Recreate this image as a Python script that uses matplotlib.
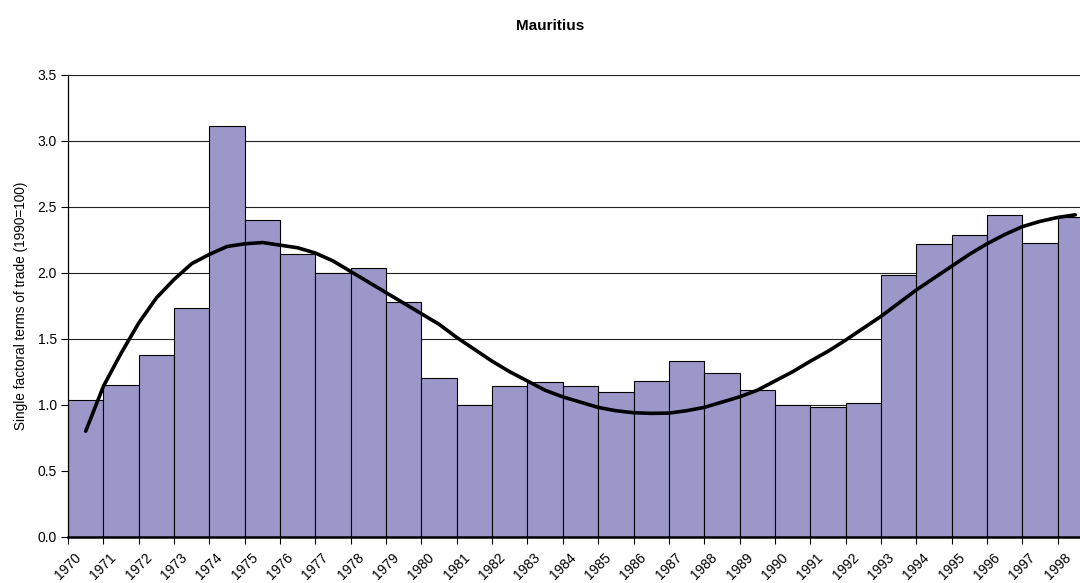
import matplotlib
matplotlib.use("Agg")
import matplotlib.pyplot as plt
import numpy as np

plt.rcParams['font.family'] = ['Liberation Sans', 'DejaVu Sans']

years = list(range(1970, 1999))
tot_index = [1.04, 1.15, 1.38, 1.73, 3.11, 2.40, 2.14, 2.00, 2.04, 1.78,
             1.20, 1.00, 1.14, 1.17, 1.14, 1.10, 1.18, 1.33, 1.24, 1.11,
             1.00, 0.98, 1.01, 1.98, 2.22, 2.29, 2.44, 2.23, 2.42]

# Trend line, sampled every half year from mid-1970 to mid-1998
trend_x = [1970.5 + 0.5 * k for k in range(57)]
trend = [0.80, 1.14, 1.39, 1.62, 1.81, 1.95, 2.07, 2.14, 2.20, 2.22,
         2.23, 2.21, 2.19, 2.15, 2.09, 2.01, 1.93, 1.85, 1.77, 1.69,
         1.61, 1.51, 1.42, 1.33, 1.25, 1.18, 1.11, 1.06, 1.02, 0.98,
         0.955, 0.94, 0.935, 0.937, 0.955, 0.98, 1.02, 1.06, 1.11, 1.18,
         1.25, 1.33, 1.405, 1.49, 1.58, 1.67, 1.77, 1.87, 1.96, 2.05,
         2.14, 2.22, 2.29, 2.35, 2.39, 2.42, 2.44]
y_ticks = [0.0, 0.5, 1.0, 1.5, 2.0, 2.5, 3.0, 3.5]

fig = plt.figure(figsize=(10.8, 5.83), dpi=100)
ax = fig.add_axes([0.063, 0.0794, 0.949, 0.792])

ax.bar(years, tot_index, width=1.0, align='edge', color='#9c97c9',
       edgecolor='black', linewidth=0.8, zorder=2)
ax.plot(trend_x, trend, color='black', linewidth=2.6, zorder=3,
        solid_capstyle='round', solid_joinstyle='round')

ax.set_xlim(years[0], years[-1] + 1)
ax.set_ylim(0, 3.5)
ax.set_yticks(y_ticks)
ax.set_yticklabels([f"{v:.1f}" for v in y_ticks], fontsize=10)
ax.set_xticks(years)
ax.set_xticklabels([str(y) for y in years], rotation=45, ha='center',
                   fontsize=10)
ax.tick_params(axis='both', direction='out', length=5, width=0.8,
               color='black')
ax.tick_params(axis='x', pad=5)
ax.tick_params(axis='y', pad=3)

ax.yaxis.grid(True, color='#222222', linewidth=0.8, zorder=0)
ax.set_axisbelow(True)

for side in ('top', 'right'):
    ax.spines[side].set_visible(False)
ax.spines['left'].set_linewidth(0.9)
ax.spines['bottom'].set_linewidth(1.8)

ax.set_ylabel('Single factoral terms of trade (1990=100)', fontsize=9.8,
              labelpad=7)
fig.text(0.509, 0.955, 'Mauritius', ha='center', va='center',
         fontsize=11, fontweight='bold')

fig.savefig('out.png', dpi=100)
